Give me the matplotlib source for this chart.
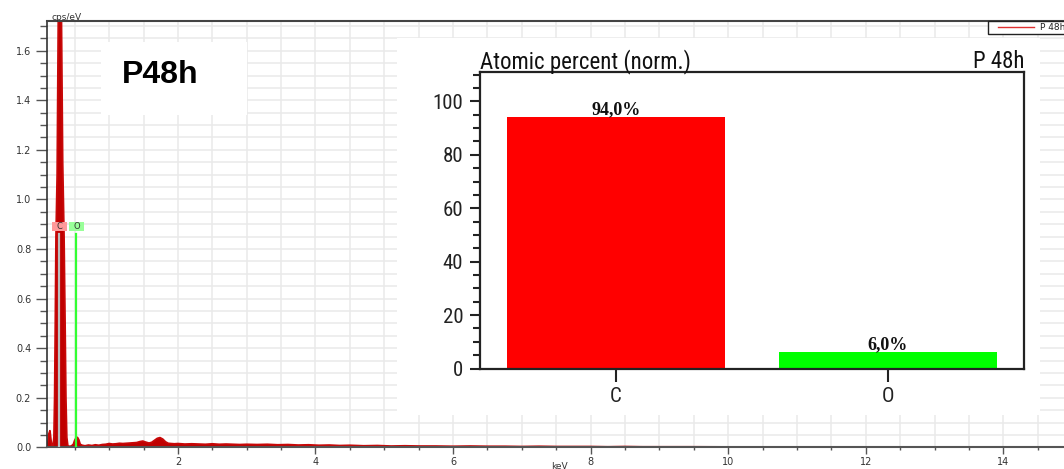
import matplotlib
matplotlib.use("Agg")
import matplotlib.pyplot as plt
from matplotlib.patches import Rectangle
from matplotlib.lines import Line2D
from matplotlib.ticker import MultipleLocator, FormatStrFormatter
from matplotlib import font_manager as fm

W, H, DPI = 1064, 469, 100

# ---------------- data ----------------
energy_kev = [0.09, 0.11, 0.125, 0.14, 0.155, 0.17, 0.185, 0.198, 0.208, 0.218,
              0.228, 0.245, 0.262, 0.285, 0.305, 0.325, 0.345, 0.36, 0.372, 0.385,
              0.40, 0.42, 0.45, 0.48, 0.50, 0.52, 0.54, 0.56, 0.58, 0.61,
              0.65, 0.70, 0.75, 0.80, 0.85, 0.90, 0.95, 1.00, 1.05, 1.10,
              1.15, 1.20, 1.25, 1.30, 1.35, 1.40, 1.45, 1.49, 1.53, 1.58,
              1.62, 1.66, 1.70, 1.74, 1.78, 1.82, 1.86, 1.90, 1.95, 2.00,
              2.10, 2.20, 2.30, 2.40, 2.50, 2.60, 2.70, 2.80, 2.90, 3.00,
              3.15, 3.30, 3.45, 3.60, 3.75, 3.90, 4.05, 4.20, 4.35, 4.50,
              4.70, 4.90, 5.10, 5.30, 5.50, 5.75, 6.00, 6.25, 6.50, 6.75,
              7.00, 7.25, 7.50, 7.75, 8.00, 8.25, 8.50, 8.75, 9.00, 9.50,
              10.00, 10.50, 11.00, 11.50, 12.00, 12.50, 13.00, 14.00, 14.88]
counts_cps_ev = [0.0, 0.02, 0.055, 0.067, 0.03, 0.004, 0.005, 0.04, 0.2, 0.5,
                 0.85, 1.1, 1.75, 2.6, 1.8, 1.15, 0.85, 0.5, 0.2, 0.04,
                 0.006, 0.004, 0.005, 0.012, 0.028, 0.038, 0.04, 0.03, 0.012, 0.008,
                 0.006, 0.009, 0.007, 0.010, 0.008, 0.011, 0.012, 0.015, 0.013, 0.014,
                 0.016, 0.015, 0.016, 0.017, 0.018, 0.019, 0.023, 0.025, 0.021, 0.017,
                 0.020, 0.028, 0.036, 0.039, 0.033, 0.022, 0.016, 0.015, 0.014, 0.015,
                 0.013, 0.014, 0.013, 0.012, 0.014, 0.012, 0.013, 0.012, 0.011, 0.012,
                 0.011, 0.012, 0.010, 0.011, 0.009, 0.010, 0.008, 0.009, 0.007, 0.008,
                 0.006, 0.007, 0.005, 0.006, 0.005, 0.005, 0.004, 0.005, 0.004, 0.004,
                 0.003, 0.004, 0.003, 0.003, 0.003, 0.002, 0.003, 0.002, 0.002, 0.002,
                 0.0015, 0.001, 0.001, 0.0008, 0.0005, 0.0, 0.0, 0.0, 0.0]

line_elements = ["C", "O"]
line_energies = [0.277, 0.525]
line_colors = ["#BDBDBD", "#33FF33"]
label_box_colors = ["#FF9A9A", "#99FF99"]

bar_categories = ["C", "O"]
atomic_percent = [94.0, 6.0]
bar_value_labels = ["94,0%", "6,0%"]
bar_colors = ["#FF0000", "#00FF00"]

sample_name = "P48h"
legend_name = "P 48h"

# ---------------- helpers ----------------
def fx(px):
    return px / W

def fy(py):
    return 1 - py / H

# condensed font for the inset, if one is installed
_names = {f.name for f in fm.fontManager.ttflist}
_cond = [f for f in fm.fontManager.ttflist
         if f.name == "DejaVu Sans" and f.stretch in ("condensed", "semi-condensed", 600, 500)
         and f.weight in ("normal", 400, "book")]
if "Liberation Sans Narrow" in _names:
    inset_font = dict(family="Liberation Sans Narrow")
elif "Roboto Condensed" in _names:
    inset_font = dict(family="Roboto Condensed")
elif _cond:
    inset_font = dict(family="DejaVu Sans", stretch="condensed")
else:
    inset_font = dict(family="Liberation Sans")

fig = plt.figure(figsize=(W / DPI, H / DPI), dpi=DPI)
fig.patch.set_facecolor("white")

# ---------------- main spectrum axes ----------------
ax = fig.add_axes([fx(46.5), fy(447.3), fx(1064) - fx(46.5), fy(21) - fy(447.3)])
ax.set_zorder(1)
ax.fill_between(energy_kev, counts_cps_ev, color="#C00000", lw=0, zorder=2)
ax.plot(energy_kev, counts_cps_ev, color="#C80808", lw=1.3, zorder=2)
ax.set_xlim(0.09, 14.88)
ax.set_ylim(0, 1.72)

ax.xaxis.set_major_locator(MultipleLocator(2))
ax.xaxis.set_minor_locator(MultipleLocator(0.5))
ax.yaxis.set_major_locator(MultipleLocator(0.2))
ax.yaxis.set_minor_locator(MultipleLocator(0.05))
ax.yaxis.set_major_formatter(FormatStrFormatter("%.1f"))
ax.grid(which="both", color="#EAEAEA", lw=1.1, zorder=0)
ax.set_axisbelow(True)

ax.tick_params(axis="y", which="major", length=8, width=1, color="#555",
               labelsize=7, labelcolor="#333", pad=3)
ax.tick_params(axis="y", which="minor", length=5, width=1, color="#555")
ax.tick_params(axis="x", which="major", length=5, width=1, color="#555",
               labelsize=7, labelcolor="#333", pad=2)
ax.tick_params(axis="x", which="minor", length=2.5, width=1, color="#555")
ax.spines["right"].set_visible(False)
ax.spines["top"].set_color("#444")
ax.spines["top"].set_linewidth(1.5)
ax.spines["left"].set_color("#333")
ax.spines["left"].set_linewidth(1.2)
ax.spines["bottom"].set_color("#555")
ax.spines["bottom"].set_linewidth(1.5)

# element marker lines and labels
for el, e, lc, bc in zip(line_elements, line_energies, line_colors, label_box_colors):
    ax.plot([e, e], [0, 0.86], color=lc, lw=1.6, zorder=3)
    ax.add_patch(Rectangle((e - 0.108, 0.874), 0.216, 0.036, facecolor=bc,
                           edgecolor="none", zorder=3))
    ax.text(e, 0.892, el, ha="center", va="center", fontsize=6, color="#333",
            zorder=4)

fig.text(fx(51), fy(17), "cps/eV", fontsize=6.5, color="#333", ha="left", va="center")
fig.text(fx(559), fy(461.5), "keV", fontsize=6.5, color="#333", ha="center", va="top")

# sample name box
axn = fig.add_axes([fx(101), fy(115), fx(247) - fx(101), fy(42) - fy(115)])
axn.set_zorder(2)
axn.set_facecolor("white")
axn.set_xticks([]); axn.set_yticks([])
for s in axn.spines.values():
    s.set_visible(False)
fig.text(fx(122), fy(83), sample_name, fontsize=23, fontweight="bold",
         family=["Liberation Sans", "DejaVu Sans"], ha="left", va="baseline",
         color="black", zorder=10)

# legend (top-right)
fig.add_artist(Rectangle((fx(988), fy(34)), fx(1090) - fx(988), fy(21) - fy(34),
                         transform=fig.transFigure, facecolor="white",
                         edgecolor="#222", lw=1, zorder=5))
fig.add_artist(Line2D([fx(998), fx(1034)], [fy(27.5), fy(27.5)],
                      transform=fig.transFigure, color="#E03030", lw=1, zorder=6))
fig.text(fx(1040), fy(27.5), legend_name, fontsize=6.5, color="#222",
         ha="left", va="center", zorder=6)

# ---------------- inset bar chart ----------------
axbg = fig.add_axes([fx(397), fy(415), fx(1040) - fx(397), fy(38) - fy(415)])
axbg.set_zorder(2)
axbg.set_facecolor("white")
axbg.set_xticks([]); axbg.set_yticks([])
for s in axbg.spines.values():
    s.set_visible(False)

axb = fig.add_axes([fx(480), fy(368.5), fx(1024) - fx(480), fy(72) - fy(368.5)])
axb.set_zorder(3)
xpos = list(range(len(bar_categories)))
axb.bar(xpos, atomic_percent, width=0.8, color=bar_colors, edgecolor="none")
axb.set_xlim(-0.5, 1.5)
axb.set_ylim(0, 111)
axb.set_xticks(xpos)
axb.set_xticklabels(bar_categories)
axb.yaxis.set_major_locator(MultipleLocator(20))
axb.yaxis.set_minor_locator(MultipleLocator(5))
axb.tick_params(axis="y", which="major", length=7.5, width=1.5, color="#222",
                labelsize=15, pad=4.5)
axb.tick_params(axis="y", which="minor", length=5, width=1.5, color="#222")
axb.tick_params(axis="x", which="major", length=9.4, width=1.5, color="#222",
                labelsize=15, pad=4)
for lab in axb.get_xticklabels() + axb.get_yticklabels():
    lab.set_fontproperties(fm.FontProperties(size=15, **inset_font))
    lab.set_color("#222")
for s in axb.spines.values():
    s.set_color("#222")
    s.set_linewidth(1.6)

for i, (v, lab) in enumerate(zip(atomic_percent, bar_value_labels)):
    axb.annotate(lab, (i, v), xytext=(0, 2), textcoords="offset points",
                 ha="center", va="baseline", fontsize=13, fontweight="bold",
                 family=["Liberation Serif", "DejaVu Serif"], color="#111")

axb.text(0, 1 + 4 / 296.5, "Atomic percent (norm.)", transform=axb.transAxes,
         ha="left", va="baseline", fontproperties=fm.FontProperties(size=16.5, **inset_font),
         color="#111")
axb.text(1, 1 + 4 / 296.5, legend_name, transform=axb.transAxes,
         ha="right", va="baseline", fontproperties=fm.FontProperties(size=16.5, **inset_font),
         color="#111")

fig.savefig("out.png", dpi=DPI)
